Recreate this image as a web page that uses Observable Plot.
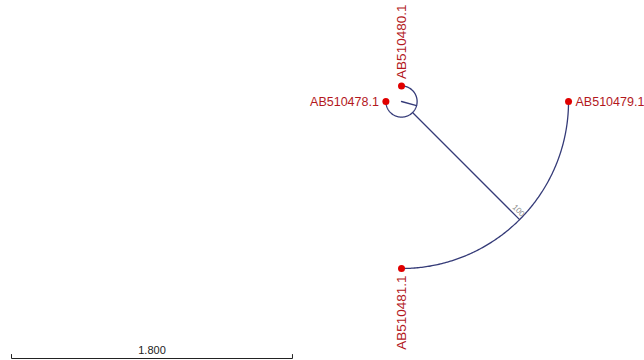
<!DOCTYPE html>
<html>
<head>
<meta charset="utf-8">
<script src="https://cdn.jsdelivr.net/npm/d3@7"></script>
<script src="https://cdn.jsdelivr.net/npm/@observablehq/plot@0.6"></script>
<style>
  html, body { margin: 0; padding: 0; background: #fff; }
</style>
</head>
<body>
<div id="chart"></div>
<script>
// Tree topology and branch lengths (substitutions per site)
const nodeIds       = ["root", "clade1", "AB510480.1", "AB510479.1", "AB510481.1", "AB510478.1"];
const parentIds     = [null,   "root",   "root",       "clade1",     "clade1",     "root"];
const branchLengths = [0.10,   0.97,     0.00,         0.00,         0.00,         0.00];
const supportValues = [null,   100,      null,         null,         null,         null];

// Tips in circular order, starting at the top and running clockwise
const tipOrder = ["AB510480.1", "AB510479.1", "AB510481.1", "AB510478.1"];
const startAngle = -90;
const rootStubAngle = 15;

// Scale bar
const scaleBarLength = 1.8;
const scaleBarLabel = "1.800";

const W = 644, H = 360;
const pxPerUnit = 156.1;
const cx = 401, cy = 101;   // centre of the circular layout, in pixels

// ---- layout ----
const nodes = nodeIds.map((id, i) => ({id, parent: parentIds[i], bl: branchLengths[i], support: supportValues[i]}));
const byId = new Map(nodes.map(n => [n.id, n]));
nodes.forEach(n => n.children = nodes.filter(c => c.parent === n.id));
const root = nodes.find(n => n.parent === null);

function setDepth(n, d) { n.r = d + n.bl; n.children.forEach(c => setDepth(c, n.r)); }
setDepth(root, 0);

const step = 360 / tipOrder.length;
tipOrder.forEach((id, i) => byId.get(id).angle = startAngle + i * step);
function setAngle(n) {
  if (n.children.length === 0) return n.angle;
  const a = n.children.map(setAngle);
  n.angle = d3.mean(a);
  n.minA = d3.min(a); n.maxA = d3.max(a);
  return n.angle;
}
setAngle(root);

const rad = a => a * Math.PI / 180;
const polar = (r, a) => ({x: r * Math.cos(rad(a)), y: r * Math.sin(rad(a))});

// branch segments: radial lines and connecting arcs
const paths = [];
// root stub
paths.push({id: "stub", pts: [polar(0, rootStubAngle), polar(root.r, rootStubAngle)]});
nodes.forEach(n => {
  if (n.parent) {
    const p = byId.get(n.parent);
    if (n.r > p.r) paths.push({id: n.id + "-radial", pts: [polar(p.r, n.angle), polar(n.r, n.angle)]});
  }
  if (n.children.length) {
    const pts = d3.range(0, 181).map(t => polar(n.r, n.minA + (n.maxA - n.minA) * t / 180));
    paths.push({id: n.id + "-arc", pts});
  }
});
const segData = paths.flatMap(p => p.pts.map(pt => ({...pt, id: p.id})));

const tips = nodes.filter(n => n.children.length === 0).map(n => ({...polar(n.r, n.angle), name: n.id, angle: n.angle, r: n.r}));
const labelGap = 7 / pxPerUnit;
const tipLabels = tips.map(t => {
  const p = polar(t.r + labelGap, t.angle);
  const a = ((t.angle % 360) + 360) % 360;
  const vertical = a === 90 || a === 270;
  const anchorStart = a === 0 || a === 270;
  return {...p, name: t.name, rotate: vertical ? -90 : 0, vertical, anchorStart};
});

const supportData = nodes.filter(n => n.support != null).map(n => ({...polar(n.r, n.angle), label: String(n.support)}));

// scale bar placed in the lower-left corner
const xDomain = [-cx / pxPerUnit, (W - cx) / pxPerUnit];
const yDomain = [-cy / pxPerUnit, (H - cy) / pxPerUnit];
const barX0 = xDomain[0] + 11 / pxPerUnit;
const barY = yDomain[0] + 358 / pxPerUnit;
const tickH = 4 / pxPerUnit;
const scaleBar = [
  {x: barX0, y: barY - tickH},
  {x: barX0, y: barY},
  {x: barX0 + scaleBarLength, y: barY},
  {x: barX0 + scaleBarLength, y: barY - tickH}
];

const lineColor = "#353b78";
const tipColor = "#e00000";
const labelColor = "#b3181d";

const labelMark = (data, anchor, size) =>
  Plot.text(data, {x: "x", y: "y", text: "name", rotate: "rotate", textAnchor: anchor, fontSize: size, fill: labelColor});

const chart = Plot.plot({
  width: W,
  height: H,
  margin: 0,
  x: {domain: xDomain, range: [0, W], axis: null},
  y: {domain: yDomain, range: [0, H], axis: null},
  style: {fontFamily: "'Liberation Sans', Arial, sans-serif", background: "#fff"},
  marks: [
    Plot.line(segData, {x: "x", y: "y", z: "id", stroke: lineColor, strokeWidth: 1.3, curve: "linear"}),
    Plot.text(supportData, {x: "x", y: "y", text: "label", rotate: 45, dx: -1, dy: -9, fontSize: 8, fill: "#8a8a8a"}),
    Plot.dot(tips, {x: "x", y: "y", r: 3.5, fill: tipColor, stroke: "none"}),
    labelMark(tipLabels.filter(d => d.anchorStart && !d.vertical), "start", 12.5),
    labelMark(tipLabels.filter(d => !d.anchorStart && !d.vertical), "end", 12.5),
    labelMark(tipLabels.filter(d => d.anchorStart && d.vertical), "start", 13.5),
    labelMark(tipLabels.filter(d => !d.anchorStart && d.vertical), "end", 13.5),
    Plot.line(scaleBar, {x: "x", y: "y", stroke: "#222", strokeWidth: 1}),
    Plot.text([{x: barX0 + scaleBarLength / 2, y: barY, label: scaleBarLabel}], {x: "x", y: "y", text: "label", dy: -8, fontSize: 11, fill: "#222"})
  ]
});
document.getElementById("chart").appendChild(chart);
</script>
</body>
</html>
